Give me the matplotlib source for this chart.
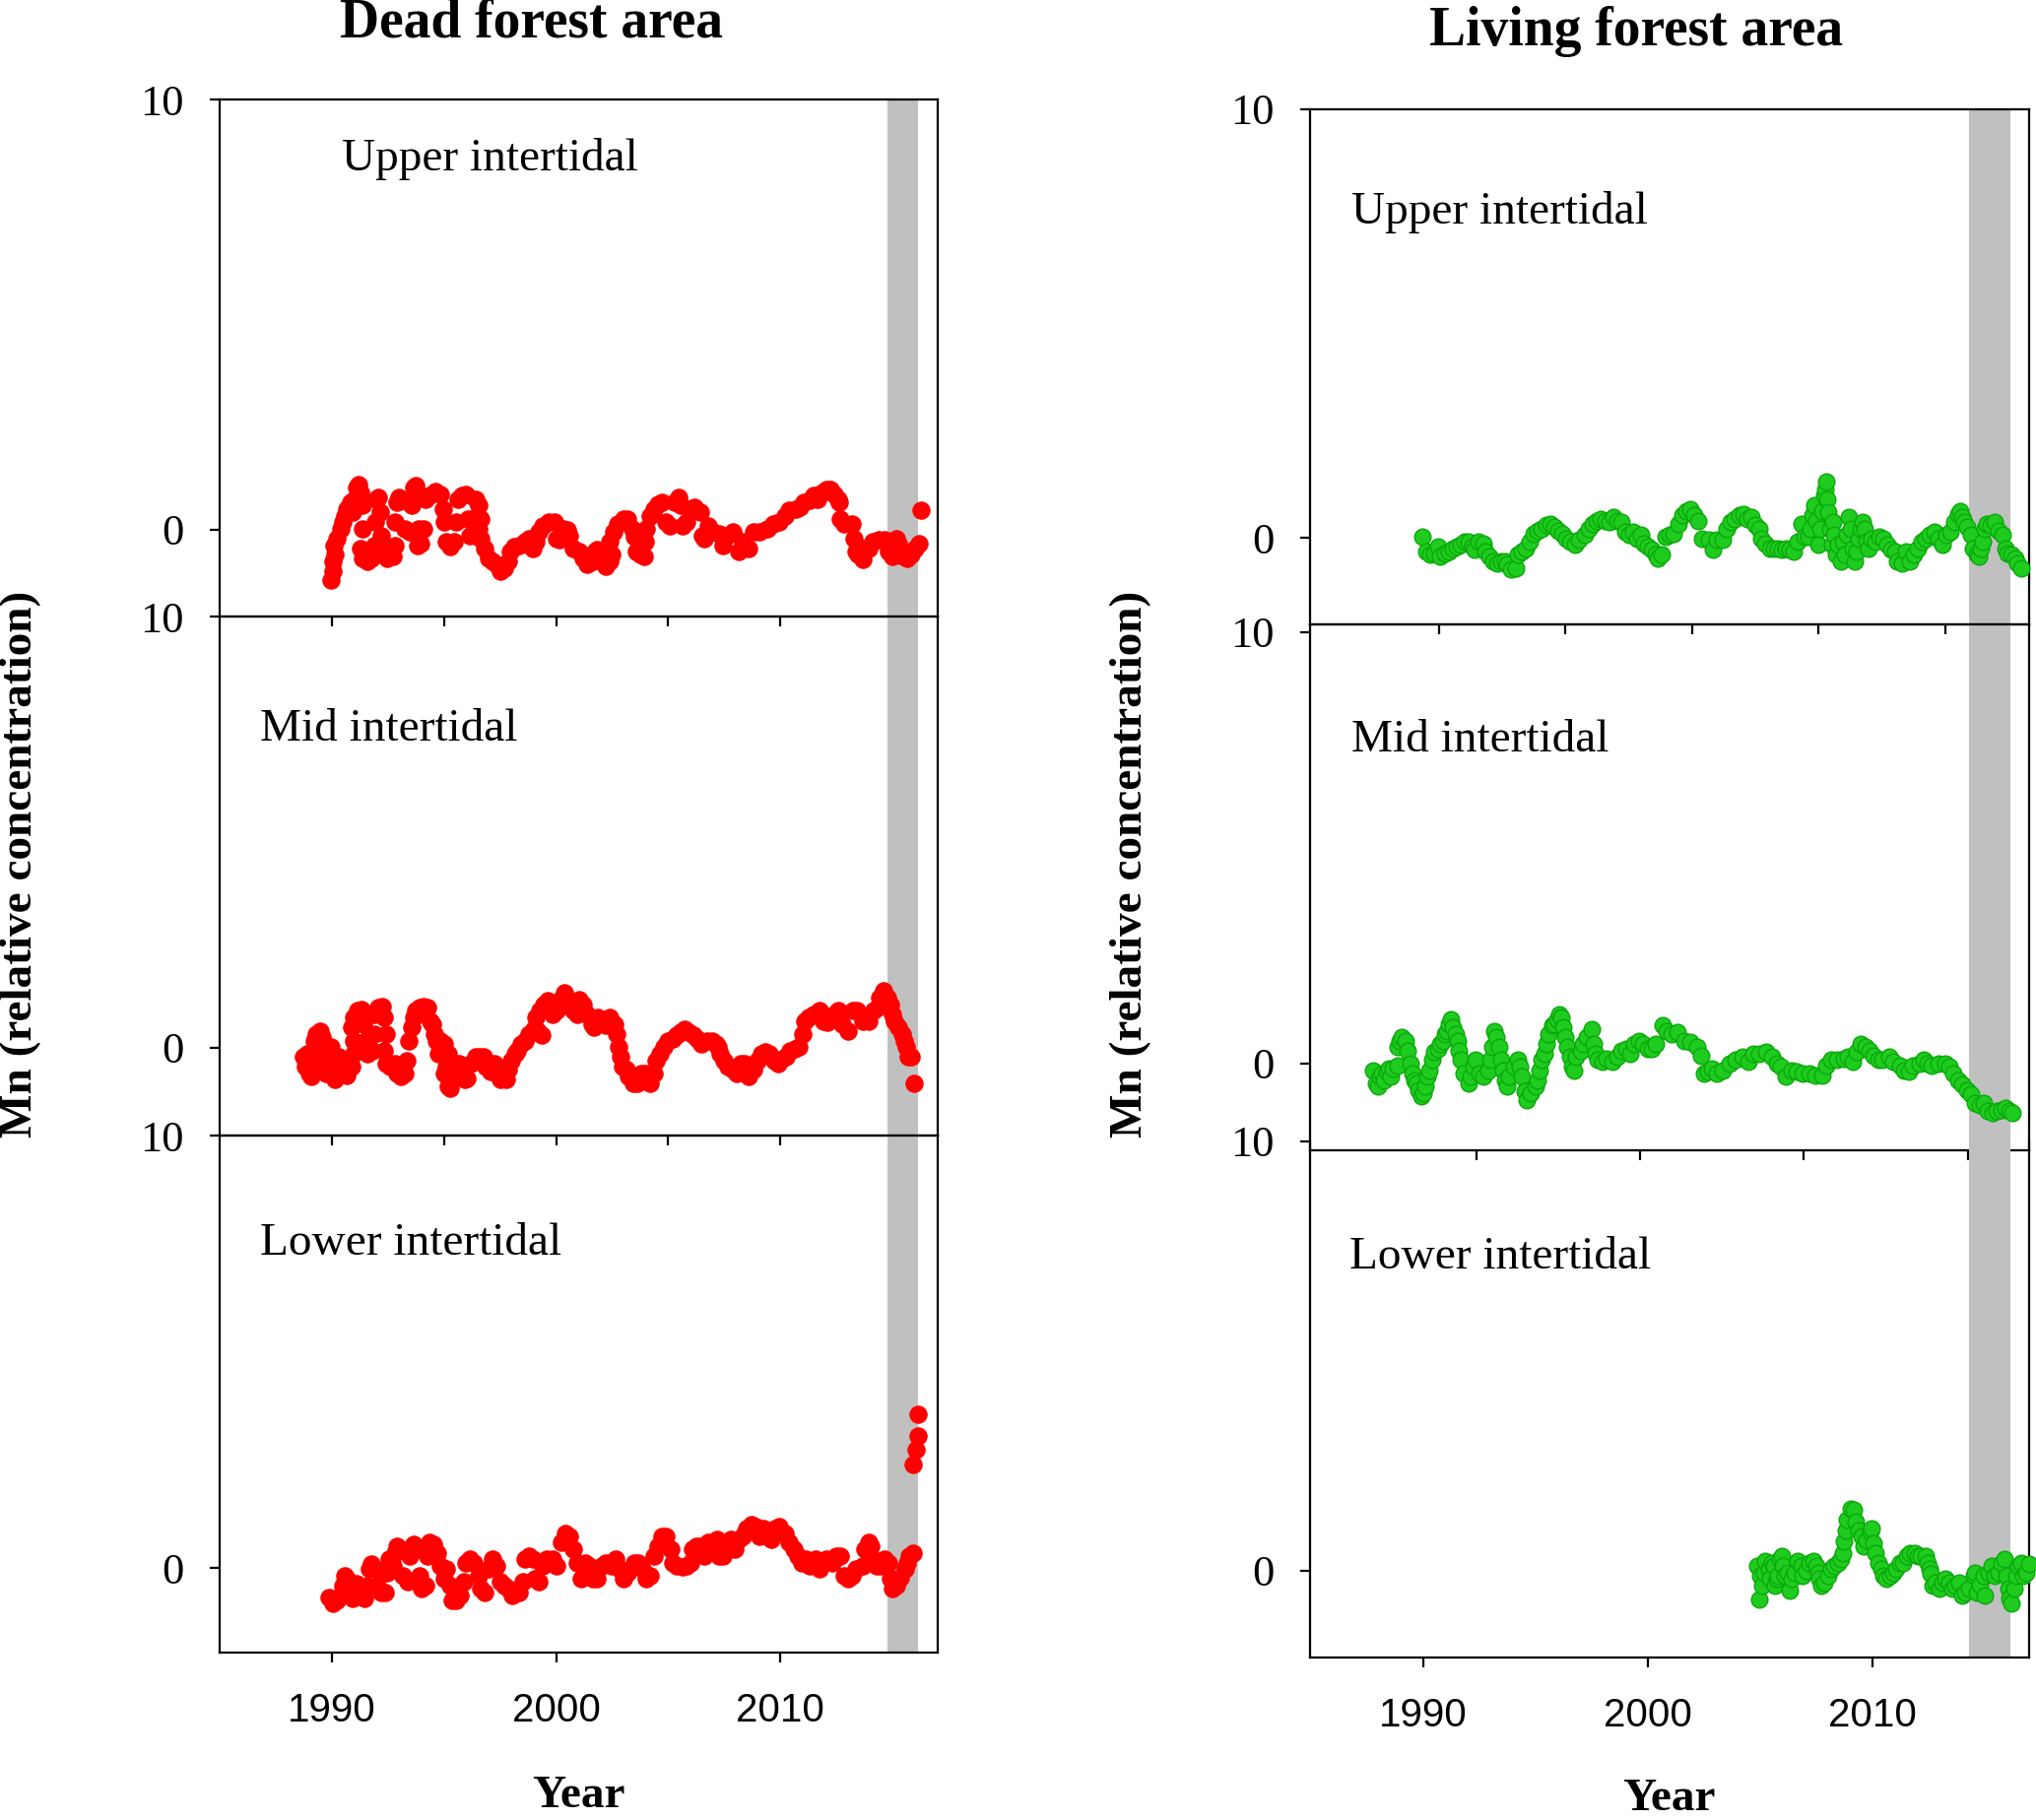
import matplotlib
matplotlib.use("Agg")
import matplotlib.pyplot as plt

# ---- data (year, Mn relative concentration) ----

dead_upper_year = [1989.95, 1990.04, 1990.04, 1990.13, 1990.09, 1990.22, 1990.40, 1990.49, 1990.58, 1990.67,
                   1990.76, 1990.85, 1990.94, 1991.03, 1991.12, 1991.21, 1991.30, 1991.39, 1991.36, 1991.30,
                   1991.39, 1991.57, 1991.75, 1991.90, 1991.93, 1991.97, 1992.08, 1992.15, 1992.20, 1992.29,
                   1992.47, 1992.74, 1992.83, 1992.83, 1992.92, 1993.01, 1993.19, 1993.28, 1993.46, 1993.55,
                   1993.64, 1993.74, 1993.92, 1993.88, 1993.83, 1993.95, 1994.10, 1994.19, 1994.37, 1994.64,
                   1994.82, 1994.96, 1995.00, 1995.09, 1995.27, 1995.45, 1995.54, 1995.63, 1995.81, 1995.99,
                   1996.08, 1996.17, 1996.26, 1996.44, 1996.53, 1996.62, 1996.53, 1996.44, 1996.62, 1996.80,
                   1996.98, 1997.16, 1997.34, 1997.52, 1997.70, 1997.88, 1997.97, 1998.15, 1998.33, 1998.60,
                   1998.78, 1998.96, 1999.10, 1999.23, 1999.41, 1999.68, 1999.95, 2000.04, 2000.13, 2000.31,
                   2000.49, 2000.58, 2000.76, 2001.03, 2001.21, 2001.39, 2001.66, 2001.75, 2001.84, 2002.02,
                   2002.20, 2002.38, 2002.47, 2002.38, 2002.56, 2002.74, 2003.02, 2003.20, 2003.38, 2003.47,
                   2003.56, 2003.74, 2003.92, 2003.97, 2004.01, 2004.19, 2004.37, 2004.55, 2004.73, 2004.91,
                   2005.05, 2005.27, 2005.45, 2005.54, 2005.63, 2005.81, 2005.99, 2006.17, 2006.44, 2006.53,
                   2006.62, 2006.80, 2006.98, 2007.25, 2007.43, 2007.61, 2007.88, 2008.15, 2008.33, 2008.60,
                   2008.78, 2009.05, 2009.41, 2009.68, 2009.95, 2010.22, 2010.40, 2010.67, 2010.85, 2011.03,
                   2011.30, 2011.48, 2011.66, 2011.85, 2012.03, 2012.21, 2012.39, 2012.57, 2012.62, 2012.66,
                   2012.84, 2013.20, 2013.29, 2013.38, 2013.47, 2013.65, 2013.74, 2013.92, 2014.10, 2014.37,
                   2014.64, 2014.82, 2015.00, 2015.18, 2015.27, 2015.45, 2015.63, 2015.81, 2015.99, 2016.17,
                   2016.26]
dead_upper_mn = [-1.16, -0.97, -0.74, -0.58, -0.36, -0.20, 0.03, 0.18, 0.33, 0.48,
                 0.52, 0.64, 0.41, 0.71, 0.98, 1.06, 0.87, 0.56, 0.03, -0.43,
                 -0.66, -0.74, -0.66, -0.36, 0.18, 0.71, 0.75, 0.41, -0.13, -0.51,
                 -0.66, -0.62, -0.36, 0.18, 0.64, 0.75, 0.68, 0.03, -0.05, 0.56,
                 0.98, 1.02, 0.79, 0.03, -0.36, -0.32, 0.03, 0.71, 0.79, 0.90,
                 0.83, 0.48, 0.18, -0.28, -0.39, -0.28, 0.18, 0.71, 0.79, 0.83,
                 0.26, -0.13, 0.26, 0.71, 0.56, 0.26, 0.03, -0.13, -0.20, -0.43,
                 -0.66, -0.74, -0.81, -0.97, -0.89, -0.74, -0.51, -0.39, -0.36, -0.28,
                 -0.20, -0.43, -0.28, -0.05, 0.10, 0.18, 0.18, -0.20, -0.24, 0.03,
                 -0.01, -0.13, -0.43, -0.51, -0.66, -0.81, -0.74, -0.51, -0.47, -0.74,
                 -0.85, -0.74, -0.58, -0.28, -0.05, 0.14, 0.26, 0.26, 0.03, -0.16,
                 -0.51, -0.58, -0.62, -0.28, 0.03, 0.33, 0.48, 0.60, 0.64, 0.18,
                 0.10, 0.64, 0.75, 0.56, 0.10, 0.18, 0.48, 0.52, 0.41, -0.13,
                 -0.20, 0.10, -0.05, -0.09, -0.36, -0.13, -0.05, -0.51, -0.28, -0.43,
                 -0.05, -0.05, 0.03, 0.14, 0.18, 0.33, 0.45, 0.48, 0.52, 0.64,
                 0.68, 0.79, 0.71, 0.87, 0.94, 0.94, 0.83, 0.71, 0.64, 0.26,
                 0.14, 0.14, -0.20, -0.51, -0.58, -0.70, -0.43, -0.43, -0.28, -0.24,
                 -0.24, -0.51, -0.62, -0.20, -0.32, -0.62, -0.66, -0.58, -0.43, -0.32,
                 0.45]

dead_mid_year = [1988.75, 1988.84, 1988.93, 1989.02, 1989.11, 1989.21, 1989.21, 1989.30, 1989.48, 1989.58,
                 1989.48, 1989.67, 1989.76, 1989.85, 1989.95, 1990.04, 1990.13, 1990.22, 1990.31, 1990.41,
                 1990.50, 1990.68, 1990.87, 1990.96, 1991.05, 1990.96, 1990.87, 1990.96, 1991.15, 1991.33,
                 1991.42, 1991.51, 1991.61, 1991.79, 1991.88, 1991.88, 1992.07, 1992.25, 1992.35, 1992.44,
                 1992.35, 1992.44, 1992.62, 1992.81, 1992.90, 1993.08, 1993.27, 1993.36, 1993.45, 1993.55,
                 1993.64, 1993.73, 1993.92, 1994.10, 1994.29, 1994.38, 1994.47, 1994.56, 1994.66, 1994.75,
                 1994.84, 1995.02, 1995.21, 1995.30, 1995.12, 1995.02, 1995.21, 1995.30, 1995.39, 1995.49,
                 1995.67, 1995.86, 1995.95, 1996.04, 1996.22, 1996.41, 1996.59, 1996.78, 1996.87, 1997.06,
                 1997.24, 1997.33, 1997.52, 1997.79, 1997.89, 1997.98, 1998.16, 1998.26, 1998.44, 1998.62,
                 1998.81, 1998.99, 1999.18, 1999.36, 1999.09, 1999.27, 1999.46, 1999.64, 1999.83, 2000.01,
                 2000.19, 2000.38, 2000.56, 2000.75, 2000.93, 2001.03, 2001.21, 2001.39, 2001.58, 2001.67,
                 2001.86, 2002.04, 2002.23, 2002.41, 2002.60, 2002.69, 2002.78, 2002.87, 2002.96, 2003.15,
                 2003.24, 2003.43, 2003.61, 2003.80, 2003.98, 2004.17, 2004.35, 2004.44, 2004.63, 2004.81,
                 2005.00, 2005.18, 2005.37, 2005.55, 2005.73, 2005.92, 2006.10, 2006.29, 2006.47, 2006.75,
                 2006.94, 2007.12, 2007.21, 2007.30, 2007.49, 2007.67, 2007.86, 2008.04, 2008.23, 2008.41,
                 2008.60, 2008.78, 2008.97, 2009.15, 2009.34, 2009.52, 2009.71, 2009.89, 2010.07, 2010.26,
                 2010.44, 2010.63, 2010.81, 2011.00, 2011.09, 2011.27, 2011.46, 2011.74, 2011.92, 2012.11,
                 2012.38, 2012.57, 2012.75, 2013.03, 2013.21, 2013.40, 2013.68, 2013.95, 2014.14, 2014.32,
                 2014.41, 2014.60, 2014.78, 2014.88, 2014.97, 2015.06, 2015.25, 2015.43, 2015.52, 2015.61,
                 2015.71, 2015.80, 2015.95]
dead_mid_mn = [-0.22, -0.45, -0.14, -0.60, -0.68, -0.30, 0.16, 0.32, 0.39, 0.24,
               -0.07, -0.45, -0.60, -0.14, 0.01, -0.60, -0.75, -0.37, -0.22, -0.30,
               -0.60, -0.64, -0.45, -0.14, -0.07, 0.16, 0.47, 0.70, 0.85, 0.89,
               0.54, 0.16, -0.14, -0.07, 0.32, 0.77, 0.93, 0.96, 0.70, 0.32,
               -0.07, -0.37, -0.45, -0.37, -0.60, -0.68, -0.60, -0.30, 0.16, 0.47,
               0.70, 0.85, 0.93, 0.96, 0.93, 0.62, 0.54, 0.32, 0.16, -0.14,
               0.16, 0.09, -0.14, -0.30, -0.45, -0.60, -0.90, -0.94, -0.75, -0.52,
               -0.37, -0.45, -0.75, -0.71, -0.37, -0.22, -0.22, -0.22, -0.45, -0.56,
               -0.37, -0.60, -0.75, -0.75, -0.52, -0.30, -0.14, -0.07, 0.09, 0.16,
               0.32, 0.43, 0.39, 0.28, 0.70, 0.85, 1.00, 1.08, 0.77, 0.85,
               1.12, 1.27, 1.08, 0.85, 0.77, 1.12, 1.00, 0.77, 0.54, 0.47,
               0.70, 0.62, 0.51, 0.70, 0.54, 0.32, 0.01, -0.22, -0.45, -0.52,
               -0.68, -0.83, -0.83, -0.60, -0.60, -0.83, -0.60, -0.30, -0.14, 0.01,
               0.16, 0.20, 0.28, 0.35, 0.43, 0.35, 0.28, 0.20, 0.09, 0.16,
               0.16, 0.09, 0.01, -0.14, -0.30, -0.45, -0.52, -0.60, -0.37, -0.37,
               -0.68, -0.52, -0.30, -0.14, -0.10, -0.14, -0.30, -0.37, -0.26, -0.22,
               -0.07, -0.03, 0.01, 0.32, 0.62, 0.70, 0.77, 0.85, 0.62, 0.58,
               0.77, 0.85, 0.54, 0.39, 0.85, 0.85, 0.62, 0.62, 0.85, 0.93,
               1.15, 1.31, 1.15, 1.00, 0.77, 0.62, 0.47, 0.32, 0.16, 0.01,
               -0.22, -0.22, -0.83]

dead_lower_year = [1989.86, 1990.04, 1990.22, 1990.40, 1990.49, 1990.58, 1990.67, 1990.76, 1990.94, 1991.03,
                   1991.12, 1991.30, 1991.48, 1991.57, 1991.66, 1991.75, 1991.93, 1992.02, 1992.20, 1992.38,
                   1992.47, 1992.56, 1992.74, 1992.83, 1992.92, 1993.10, 1993.19, 1993.37, 1993.46, 1993.64,
                   1993.83, 1993.92, 1994.01, 1994.19, 1994.28, 1994.37, 1994.55, 1994.73, 1994.82, 1995.00,
                   1995.09, 1995.27, 1995.36, 1995.54, 1995.72, 1995.90, 1995.99, 1996.17, 1996.35, 1996.53,
                   1996.62, 1996.80, 1996.98, 1997.16, 1997.34, 1997.52, 1997.70, 1997.88, 1998.06, 1998.33,
                   1998.51, 1998.60, 1998.78, 1998.96, 1999.05, 1999.23, 1999.41, 1999.59, 1999.86, 2000.04,
                   2000.22, 2000.40, 2000.58, 2000.76, 2000.94, 2001.12, 2001.30, 2001.48, 2001.66, 2001.84,
                   2002.02, 2002.20, 2002.47, 2002.65, 2002.84, 2003.02, 2003.20, 2003.47, 2003.65, 2003.83,
                   2004.01, 2004.19, 2004.37, 2004.55, 2004.73, 2004.91, 2005.09, 2005.18, 2005.36, 2005.63,
                   2005.81, 2005.99, 2006.08, 2006.26, 2006.44, 2006.62, 2006.80, 2006.98, 2007.16, 2007.25,
                   2007.43, 2007.61, 2007.79, 2007.97, 2008.15, 2008.33, 2008.42, 2008.51, 2008.69, 2008.87,
                   2009.05, 2009.23, 2009.41, 2009.59, 2009.77, 2009.95, 2010.22, 2010.40, 2010.58, 2010.76,
                   2010.94, 2011.12, 2011.30, 2011.57, 2011.75, 2012.03, 2012.30, 2012.48, 2012.66, 2012.84,
                   2013.02, 2013.20, 2013.38, 2013.65, 2013.74, 2013.92, 2014.01, 2014.10, 2014.28, 2014.46,
                   2014.64, 2014.82, 2014.91, 2015.00, 2015.18, 2015.36, 2015.54, 2015.63, 2015.72, 2015.90,
                   2015.90, 2016.03, 2016.12, 2016.13]
dead_lower_mn = [-0.67, -0.82, -0.74, -0.63, -0.40, -0.17, -0.25, -0.63, -0.70, -0.55,
                 -0.36, -0.63, -0.70, -0.40, -0.02, 0.09, -0.02, -0.40, -0.55, -0.55,
                 -0.10, 0.21, 0.05, 0.36, 0.51, 0.43, -0.17, -0.32, 0.28, 0.55,
                 0.43, -0.17, -0.48, -0.40, 0.28, 0.59, 0.55, 0.36, 0.05, -0.25,
                 -0.02, -0.40, -0.74, -0.74, -0.63, -0.32, 0.13, 0.21, 0.13, -0.17,
                 -0.48, -0.55, -0.02, 0.21, 0.05, -0.32, -0.40, -0.48, -0.63, -0.55,
                 -0.32, 0.21, 0.28, 0.21, -0.25, -0.32, 0.05, 0.21, 0.21, 0.05,
                 0.59, 0.81, 0.74, 0.43, 0.13, -0.25, 0.13, 0.05, -0.25, -0.25,
                 0.05, 0.13, 0.05, 0.21, -0.02, -0.25, -0.10, 0.13, 0.13, -0.02,
                 -0.25, -0.17, 0.28, 0.51, 0.74, 0.74, 0.43, 0.13, 0.05, 0.02,
                 0.05, 0.13, 0.43, 0.51, 0.51, 0.28, 0.59, 0.59, 0.66, 0.28,
                 0.28, 0.59, 0.66, 0.43, 0.66, 0.74, 0.81, 0.93, 1.00, 0.97,
                 0.74, 0.93, 0.74, 0.66, 0.93, 0.97, 0.81, 0.59, 0.43, 0.28,
                 0.13, 0.21, 0.05, 0.21, -0.02, 0.21, 0.13, 0.28, 0.28, -0.17,
                 -0.25, -0.17, -0.02, 0.05, 0.43, 0.59, 0.51, 0.21, 0.05, 0.05,
                 0.21, 0.13, -0.25, -0.48, -0.40, -0.21, -0.02, 0.13, 0.28, 0.36,
                 2.41, 2.75, 3.05, 3.56]

living_upper_year = [1989.94, 1990.12, 1990.30, 1990.48, 1990.67, 1990.76, 1990.94, 1991.12, 1991.30, 1991.48,
                     1991.66, 1991.84, 1992.02, 1992.20, 1992.29, 1992.47, 1992.66, 1992.75, 1992.93, 1993.11,
                     1993.29, 1993.47, 1993.65, 1993.74, 1993.92, 1994.10, 1994.19, 1994.38, 1994.56, 1994.74,
                     1994.92, 1995.10, 1995.28, 1995.46, 1995.64, 1995.82, 1996.00, 1996.19, 1996.37, 1996.55,
                     1996.73, 1996.91, 1997.18, 1997.36, 1997.54, 1997.72, 1997.91, 1998.09, 1998.27, 1998.45,
                     1998.63, 1998.81, 1998.99, 1999.17, 1999.35, 1999.53, 1999.71, 1999.81, 1999.99, 2000.17,
                     2000.35, 2000.44, 2000.62, 2000.80, 2000.98, 2001.16, 2001.34, 2001.53, 2001.71, 2001.89,
                     2002.07, 2002.25, 2002.43, 2002.70, 2002.88, 2003.06, 2003.34, 2003.52, 2003.70, 2003.88,
                     2004.06, 2004.24, 2004.42, 2004.60, 2004.78, 2004.96, 2005.05, 2005.24, 2005.42, 2005.60,
                     2005.78, 2005.96, 2006.14, 2006.32, 2006.50, 2006.68, 2006.86, 2006.96, 2007.14, 2007.23,
                     2007.32, 2007.41, 2007.50, 2007.59, 2007.68, 2007.77, 2007.86, 2007.90, 2007.95, 2008.00,
                     2008.04, 2008.13, 2008.19, 2008.26, 2008.31, 2008.40, 2008.49, 2008.58, 2008.67, 2008.77,
                     2008.86, 2008.95, 2009.04, 2009.13, 2009.22, 2009.31, 2009.40, 2009.49, 2009.58, 2009.67,
                     2009.76, 2009.85, 2009.94, 2010.12, 2010.30, 2010.48, 2010.66, 2010.85, 2011.03, 2011.12,
                     2011.30, 2011.48, 2011.66, 2011.84, 2012.02, 2012.20, 2012.38, 2012.57, 2012.75, 2012.93,
                     2013.11, 2013.29, 2013.47, 2013.65, 2013.83, 2013.92, 2014.01, 2014.10, 2014.20, 2014.38,
                     2014.47, 2014.65, 2014.74, 2014.83, 2014.92, 2015.01, 2015.10, 2015.28, 2015.46, 2015.64,
                     2015.82, 2015.91, 2016.01, 2016.19, 2016.37, 2016.46, 2016.64]
living_upper_mn = [0.03, -0.31, -0.39, -0.35, -0.20, -0.43, -0.35, -0.31, -0.24, -0.20,
                   -0.16, -0.08, -0.08, -0.20, -0.27, -0.08, -0.12, -0.31, -0.43, -0.54,
                   -0.58, -0.54, -0.54, -0.62, -0.73, -0.69, -0.39, -0.31, -0.24, -0.08,
                   0.11, 0.18, 0.22, 0.30, 0.34, 0.26, 0.18, 0.11, -0.01, -0.08,
                   -0.16, -0.04, 0.07, 0.22, 0.34, 0.41, 0.45, 0.41, 0.38, 0.49,
                   0.41, 0.38, 0.15, 0.07, 0.15, -0.01, 0.07, -0.12, -0.20, -0.27,
                   -0.39, -0.47, -0.39, 0.03, 0.07, 0.11, 0.34, 0.53, 0.64, 0.68,
                   0.53, 0.41, -0.01, -0.04, -0.27, -0.04, -0.04, 0.22, 0.38, 0.45,
                   0.53, 0.57, 0.45, 0.49, 0.30, 0.22, -0.01, -0.12, -0.24, -0.24,
                   -0.24, -0.27, -0.24, -0.27, -0.31, -0.08, 0.34, 0.03, 0.03, 0.22,
                   0.53, 0.76, 0.41, -0.16, 0.22, 0.64, 0.99, 1.14, 1.31, 0.91,
                   0.61, 0.22, -0.16, 0.38, 0.07, -0.39, -0.16, -0.54, -0.08, -0.39,
                   0.07, 0.49, 0.22, -0.24, -0.54, -0.31, -0.01, 0.22, 0.38, 0.22,
                   -0.08, -0.24, -0.01, -0.08, 0.03, -0.01, -0.16, -0.27, -0.31, -0.54,
                   -0.58, -0.31, -0.54, -0.39, -0.24, -0.08, -0.01, 0.07, 0.15, -0.01,
                   -0.16, 0.07, 0.15, 0.38, 0.57, 0.64, 0.49, 0.38, 0.26, 0.07,
                   -0.24, -0.39, -0.43, -0.24, -0.08, 0.22, 0.34, 0.30, 0.38, 0.18,
                   0.07, -0.24, -0.35, -0.39, -0.47, -0.58, -0.69]

living_mid_year = [1987.77, 1987.87, 1987.97, 1988.06, 1988.16, 1988.25, 1988.35, 1988.45, 1988.54, 1988.64,
                   1988.83, 1988.83, 1988.93, 1989.02, 1989.22, 1989.31, 1989.41, 1989.50, 1989.60, 1989.70,
                   1989.79, 1989.89, 1989.98, 1990.08, 1990.18, 1990.27, 1990.37, 1990.47, 1990.66, 1990.75,
                   1990.85, 1990.94, 1991.04, 1991.14, 1991.23, 1991.33, 1991.43, 1991.52, 1991.56, 1991.68,
                   1991.81, 1992.00, 1992.10, 1992.25, 1992.33, 1992.48, 1992.67, 1992.87, 1992.96, 1993.06,
                   1993.16, 1993.25, 1993.35, 1993.44, 1993.54, 1993.64, 1993.73, 1993.83, 1994.02, 1994.21,
                   1994.31, 1994.40, 1994.50, 1994.60, 1994.79, 1994.98, 1995.08, 1995.17, 1995.27, 1995.37,
                   1995.46, 1995.56, 1995.75, 1995.85, 1995.94, 1996.04, 1996.14, 1996.23, 1996.33, 1996.42,
                   1996.52, 1996.61, 1996.71, 1996.81, 1997.00, 1997.10, 1997.29, 1997.48, 1997.58, 1997.67,
                   1997.77, 1997.96, 1998.15, 1998.44, 1998.63, 1998.83, 1999.02, 1999.21, 1999.40, 1999.59,
                   1999.79, 1999.98, 2000.17, 2000.36, 2000.65, 2000.84, 2001.03, 2001.32, 2001.61, 2001.90,
                   2002.19, 2002.38, 2002.48, 2002.67, 2002.86, 2003.05, 2003.34, 2003.63, 2003.92, 2004.21,
                   2004.49, 2004.69, 2004.97, 2005.26, 2005.55, 2005.74, 2005.94, 2006.13, 2006.42, 2006.61,
                   2006.90, 2007.19, 2007.47, 2007.76, 2007.96, 2008.15, 2008.44, 2008.73, 2008.92, 2009.11,
                   2009.30, 2009.49, 2009.69, 2009.88, 2010.07, 2010.26, 2010.45, 2010.74, 2010.93, 2011.22,
                   2011.41, 2011.61, 2011.80, 2012.09, 2012.28, 2012.47, 2012.66, 2012.95, 2013.24, 2013.43,
                   2013.62, 2013.82, 2014.01, 2014.20, 2014.39, 2014.59, 2014.78, 2014.97, 2015.16, 2015.36,
                   2015.55, 2015.74, 2015.93, 2016.12, 2016.22]
living_mid_mn = [-0.16, -0.47, -0.54, -0.31, -0.24, -0.39, -0.20, -0.12, -0.31, -0.12,
                 -0.05, 0.37, 0.52, 0.60, 0.52, 0.29, -0.01, -0.24, -0.39, -0.47,
                 -0.62, -0.77, -0.69, -0.54, -0.31, -0.16, 0.07, 0.26, 0.33, 0.45,
                 0.52, 0.68, 0.75, 0.90, 1.02, 0.83, 0.68, 0.52, 0.29, 0.07,
                 -0.24, -0.47, -0.31, -0.09, 0.07, -0.24, -0.31, -0.16, 0.07, 0.37,
                 0.75, 0.60, 0.37, 0.07, -0.16, -0.39, -0.54, -0.31, -0.09, 0.07,
                 -0.09, -0.31, -0.66, -0.85, -0.69, -0.54, -0.39, -0.16, 0.07, 0.22,
                 0.45, 0.68, 0.87, 0.90, 1.02, 1.13, 1.06, 0.83, 0.60, 0.37,
                 0.14, -0.09, -0.16, 0.14, 0.29, 0.45, 0.60, 0.79, 0.45, 0.22,
                 0.07, 0.03, 0.10, 0.03, 0.14, 0.29, 0.33, 0.22, 0.45, 0.52,
                 0.45, 0.33, 0.33, 0.45, 0.87, 0.75, 0.68, 0.71, 0.52, 0.49,
                 0.37, 0.18, -0.24, -0.20, -0.12, -0.24, -0.16, -0.01, 0.07, 0.14,
                 0.03, 0.22, 0.22, 0.26, 0.14, -0.01, -0.09, -0.31, -0.16, -0.20,
                 -0.24, -0.24, -0.28, -0.28, -0.05, 0.07, 0.07, 0.10, 0.14, 0.03,
                 0.26, 0.45, 0.37, 0.29, 0.18, 0.07, 0.07, 0.14, 0.03, -0.05,
                 -0.16, -0.20, -0.05, -0.01, 0.07, -0.01, -0.05, -0.01, -0.01, -0.09,
                 -0.24, -0.39, -0.50, -0.62, -0.73, -0.92, -0.96, -0.92, -1.11, -1.15,
                 -1.11, -1.08, -1.04, -1.11, -1.15]

living_lower_year = [2004.94, 2004.86, 2005.01, 2005.08, 2005.16, 2005.23, 2005.38, 2005.45, 2005.52, 2005.60,
                     2005.67, 2005.74, 2005.81, 2005.89, 2005.96, 2006.03, 2006.11, 2006.25, 2006.33, 2006.40,
                     2006.55, 2006.69, 2006.84, 2006.91, 2007.06, 2007.20, 2007.35, 2007.50, 2007.57, 2007.64,
                     2007.72, 2007.86, 2008.01, 2008.15, 2008.30, 2008.45, 2008.59, 2008.67, 2008.74, 2008.81,
                     2008.88, 2009.03, 2009.18, 2009.25, 2009.40, 2009.54, 2009.62, 2009.76, 2009.91, 2009.98,
                     2010.05, 2010.13, 2010.27, 2010.42, 2010.49, 2010.64, 2010.79, 2010.93, 2011.08, 2011.22,
                     2011.37, 2011.52, 2011.66, 2011.88, 2012.03, 2012.17, 2012.39, 2012.47, 2012.54, 2012.61,
                     2012.69, 2012.83, 2012.98, 2013.12, 2013.27, 2013.42, 2013.56, 2013.71, 2013.86, 2014.00,
                     2014.15, 2014.29, 2014.51, 2014.59, 2014.66, 2014.81, 2014.95, 2015.03, 2015.17, 2015.32,
                     2015.46, 2015.61, 2015.76, 2015.90, 2015.98, 2016.05, 2016.12, 2016.20, 2016.34, 2016.41,
                     2016.49, 2016.63, 2016.71, 2016.85, 2017.00]
living_lower_mn = [-0.66, 0.11, -0.11, -0.34, -0.04, 0.23, 0.04, -0.19, 0.19, 0.11,
                   -0.34, -0.19, -0.11, 0.27, 0.34, 0.11, -0.11, -0.04, -0.46, -0.19,
                   -0.04, 0.23, 0.11, -0.11, 0.00, 0.19, 0.23, 0.11, -0.04, -0.19,
                   -0.34, -0.27, -0.11, 0.04, 0.11, 0.19, 0.27, 0.42, 0.69, 0.95,
                   1.18, 1.45, 1.41, 1.15, 0.95, 0.80, 0.57, 0.72, 0.92, 0.99,
                   0.65, 0.42, 0.19, 0.04, -0.11, -0.19, -0.11, -0.04, 0.04, 0.19,
                   0.19, 0.34, 0.42, 0.42, 0.34, 0.34, 0.34, 0.19, 0.04, -0.08,
                   -0.34, -0.27, -0.42, -0.27, -0.19, -0.27, -0.42, -0.34, -0.27, -0.57,
                   -0.50, -0.42, -0.11, -0.04, -0.50, -0.31, -0.11, -0.57, -0.04, 0.11,
                   -0.11, -0.04, 0.19, 0.27, -0.11, -0.42, -0.65, -0.76, -0.42, -0.11,
                   0.11, 0.19, -0.11, -0.04, 0.15]

panel_names = ["Upper intertidal", "Mid intertidal", "Lower intertidal"]
column_titles = ["Dead forest area", "Living forest area"]
y_ticks = [0, 10]
y_tick_labels = ["0", "10"]
x_tick_labels = ["1990", "2000", "2010"]

SERIF = ["Liberation Serif", "DejaVu Serif"]
SANS = ["Liberation Sans", "DejaVu Sans"]
plt.rcParams["font.family"] = SERIF

fig = plt.figure(figsize=(20.67, 18.48), dpi=100)

RED = dict(color="#ff0000", mec="#ff0000", ms=12.5, mew=0.8)
GREEN = dict(color="#1ecb1e", mec="#0aa80a", ms=12, mew=1.0)

# rect, ylim, xlim, band, x, y, style, label pos, x ticks, labelled, name index
panels = [
    ([0.1078, 0.6612, 0.3527, 0.2839], (-2.02, 10), (1985, 2017), (2014.75, 2016.12),
     dead_upper_year, dead_upper_mn, RED, (0.170, 0.864), [1990, 1995, 2000, 2005, 2010, 2015], False, 0),
    ([0.1078, 0.3759, 0.3527, 0.2853], (-2.05, 10), (1985, 2017), (2014.75, 2016.12),
     dead_mid_year, dead_mid_mn, RED, (0.056, 0.762), [1990, 1995, 2000, 2005, 2010, 2015], False, 1),
    ([0.1078, 0.0920, 0.3527, 0.2839], (-1.95, 10), (1985, 2017), (2014.75, 2016.12),
     dead_lower_year, dead_lower_mn, RED, (0.056, 0.770), [1990, 2000, 2010], True, 2),
    ([0.6435, 0.6569, 0.3533, 0.2832], (-2.01, 10), (1984.95, 2017.0), (2014.3, 2016.13),
     living_upper_year, living_upper_mn, GREEN, (0.058, 0.778),
     [1990.69, 1996.31, 2001.96, 2007.58, 2013.25], False, 0),
    ([0.6435, 0.3680, 0.3533, 0.2889], (-2.02, 10.18), (1984.95, 2017.0), (2014.3, 2016.13),
     living_mid_year, living_mid_mn, GREEN, (0.058, 0.758),
     [1992.35, 1999.65, 2006.95, 2014.25], False, 1),
    ([0.6435, 0.0892, 0.3533, 0.2839], (-2.02, 10), (1984.95, 2017.0), (2014.3, 2016.13),
     living_lower_year, living_lower_mn, GREEN, (0.054, 0.7525), [1990, 2000, 2010], True, 2),
]

for i, (rect, ylim, xlim, band, xs, ys, style, lpos, xt, labelled, k) in enumerate(panels):
    ax = fig.add_axes(rect)
    ax.set_facecolor("none")
    ax.set_xlim(*xlim)
    ax.set_ylim(*ylim)
    ax.axvspan(band[0], band[1], color="#c0c0c0", lw=0, zorder=1)
    ax.plot(xs, ys, "o", linestyle="none", zorder=3, clip_on=False, **style)
    for s in ax.spines.values():
        s.set_linewidth(1.6)
        s.set_color("black")
    if i == 5:
        ax.spines["top"].set_visible(False)
    ax.set_yticks(y_ticks)
    ax.set_yticklabels(y_tick_labels, fontsize=32, family=SERIF)
    ax.set_xticks(xt)
    if labelled:
        ax.set_xticklabels(x_tick_labels, fontsize=29, family=SANS)
    else:
        ax.set_xticklabels([])
    ax.tick_params(axis="y", direction="out", length=7, width=1.6, pad=19)
    ax.tick_params(axis="x", direction="out", length=7, width=1.6, pad=22)
    ax.text(lpos[0], lpos[1], panel_names[k], transform=ax.transAxes,
            fontsize=34, ha="left", va="baseline")

fig.text(0.2608, 0.9795, column_titles[0], fontsize=40, fontweight="bold", ha="center", va="baseline")
fig.text(0.8036, 0.9750, column_titles[1], fontsize=40, fontweight="bold", ha="center", va="baseline")
for xpos in (0.0102, 0.5555):
    fig.text(xpos, 0.525, "Mn (relative concentration)", rotation=90, fontsize=34,
             fontweight="bold", ha="center", va="center")
fig.text(0.2844, 0.0070, "Year", fontsize=34, fontweight="bold", ha="center", va="baseline")
fig.text(0.8195, 0.0055, "Year", fontsize=34, fontweight="bold", ha="center", va="baseline")

fig.savefig("out.png", dpi=100)
